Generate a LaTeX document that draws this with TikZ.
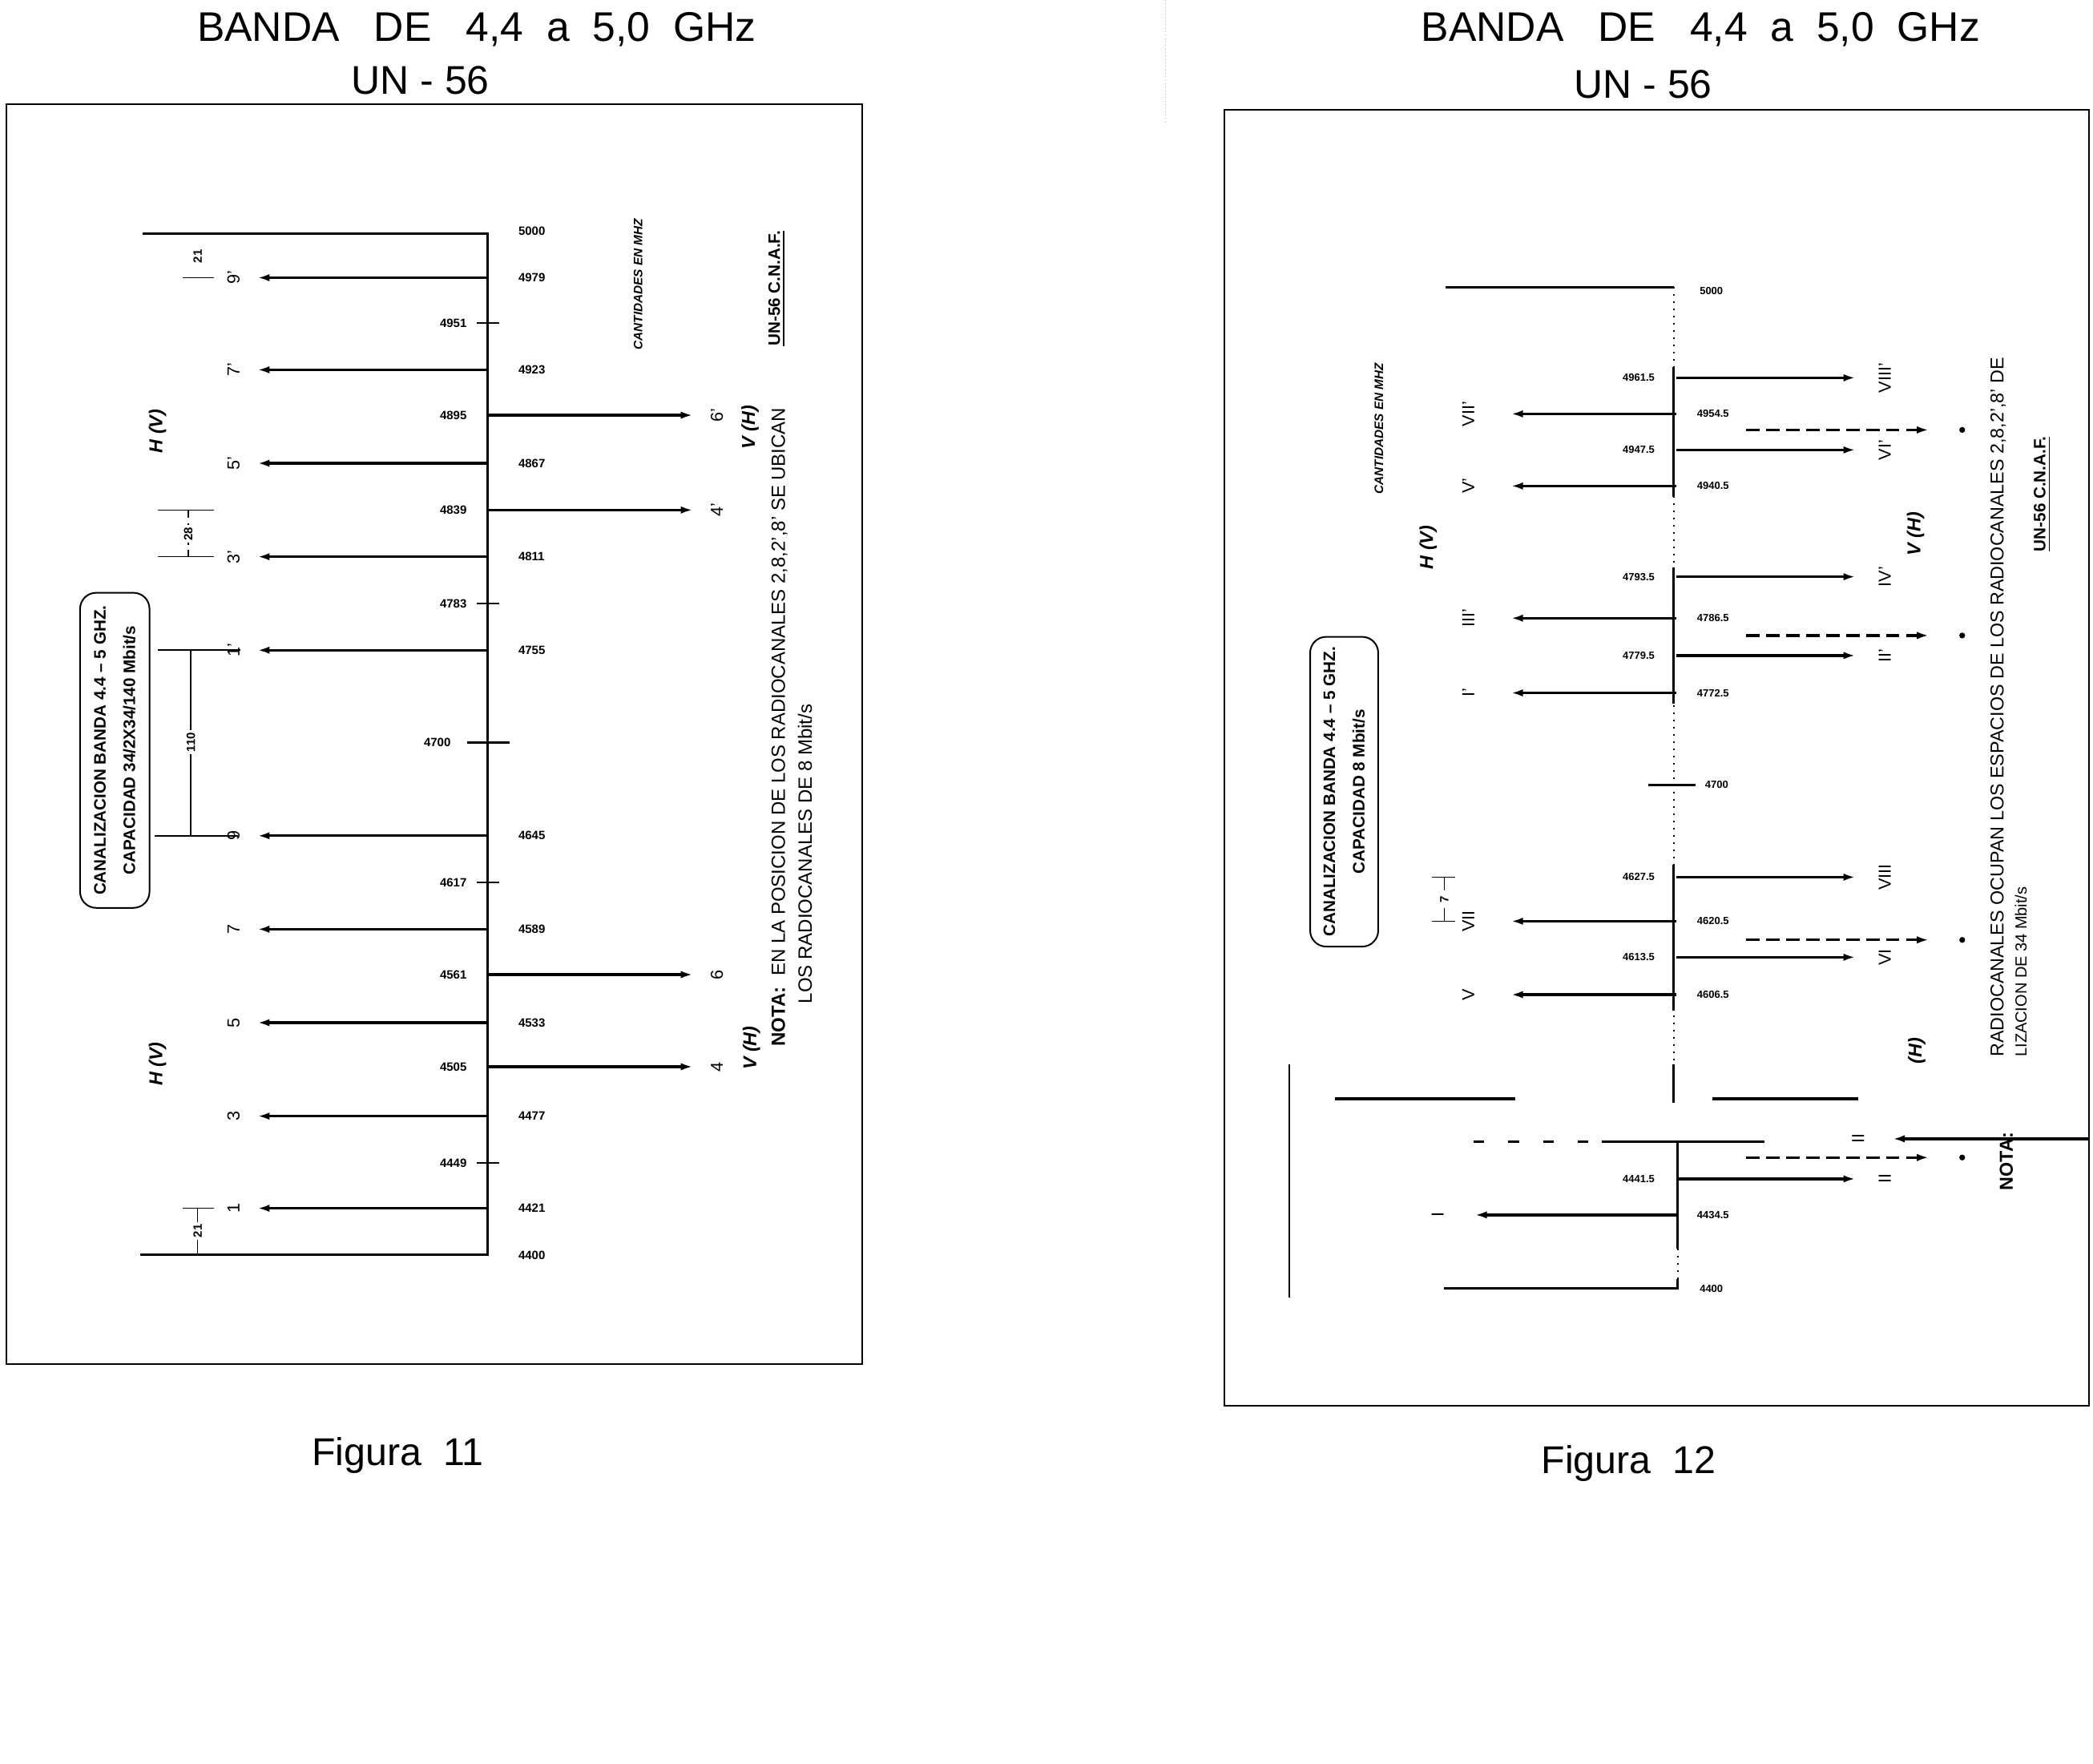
\documentclass[tikz,border=0pt]{standalone}
\usepackage{fontspec}
\setmainfont{Liberation Sans}
\usetikzlibrary{arrows.meta, positioning}

\begin{document}
\begin{tikzpicture}[
    x=0.5pt, y=-0.5pt,
    frame/.style={draw, line width=0.6pt},
    spine/.style={line width=0.9pt},
    chan/.style={line width=1pt, -{Latex[length=4.5pt, width=2.8pt]}},
    dchan/.style={chan, dash pattern=on 5pt off 2.5pt},
    tickmark/.style={line width=0.8pt},
    dim/.style={line width=0.5pt},
    freq/.style={font=\fontsize{4.5}{5}\selectfont\bfseries, inner sep=0.5pt},
    freqb/.style={font=\fontsize{3.9}{5}\selectfont\bfseries, inner sep=0.5pt},
    chlab/.style={rotate=90, font=\fontsize{6.5}{7}\selectfont, inner sep=0.5pt},
    dimlab/.style={rotate=90, font=\fontsize{4.5}{5}\selectfont\bfseries, inner sep=0.8pt, fill=white},
    pol/.style={rotate=90, font=\fontsize{7}{8}\selectfont\bfseries\itshape, inner sep=0pt},
    head/.style={font=\fontsize{15.5}{17}\selectfont},
    sub/.style={font=\fontsize{15}{16}\selectfont},
    caption/.style={font=\fontsize{14.5}{16}\selectfont},
    capbox/.style={rotate=90, draw, rounded corners=6pt, line width=0.6pt, align=center,
        font=\fontsize{6.2}{11}\selectfont\bfseries, inner sep=2pt},
    unit/.style={rotate=90, font=\fontsize{4.6}{5}\selectfont\bfseries\itshape, inner sep=0pt},
    plan/.style={rotate=90, font=\fontsize{6.2}{7}\selectfont\bfseries, inner sep=0pt},
    note/.style={rotate=90, anchor=west, font=\fontsize{7.2}{8}\selectfont, inner sep=0pt},
    blob/.style={circle, fill, inner sep=0pt, minimum size=2.2pt}
]
\useasboundingbox (0,0) rectangle (1568,1321);

% figura 11
\node[head] (t11) at (357,22) {BANDA\ \ \ DE\ \ \ 4,4\ \ a\ \ 5,0\ \ GHz};
\node[sub] (u11) at (315,60) {UN - 56};
\draw[frame] (5,78) rectangle (646,1022);
\node[caption] (c11) at (298,1090) {Figura\ \ 11};
\draw[densely dotted, gray!60, line width=0.3pt] (873,0) -- (873,92);

\coordinate (top11) at (107,175);
\coordinate (s11a) at (365,175);
\coordinate (s11b) at (365,940);
\coordinate (bot11) at (105,940);
\draw[spine] (top11) -- (s11a) -- (s11b) -- (bot11);
\node[freq, anchor=west] (f11-5000) at (387,173) {5000};
\node[freq, anchor=west] (f11-4400) at (387,940) {4400};

\foreach \y/\ch/\f [count=\i] in {208/9'/4979, 277/7'/4923, 347/5'/4867, 417/3'/4811,
    487/1'/4755, 626/9/4645, 696/7/4589, 766/5/4533, 836/3/4477, 905/1/4421} {
  \coordinate (la11-\i) at (365,\y);
  \coordinate (lb11-\i) at (193,\y);
  \draw[chan] (la11-\i) -- (lb11-\i);
  \node[chlab] (lch11-\i) at (175,\y) {\ch};
  \node[freq, anchor=west] (lf11-\i) at (387,\y) {\f};
}
\foreach \y/\ch/\f [count=\i] in {311/6'/4895, 382/4'/4839, 730/6/4561, 799/4/4505} {
  \coordinate (ra11-\i) at (365,\y);
  \coordinate (rb11-\i) at (519,\y);
  \draw[chan] (ra11-\i) -- (rb11-\i);
  \node[chlab] (rch11-\i) at (537,\y) {\ch};
  \node[freq, anchor=east] (rf11-\i) at (351,\y) {\f};
}
\foreach \y/\f [count=\i] in {242/4951, 452/4783, 661/4617, 871/4449} {
  \coordinate (ta11-\i) at (357,\y);
  \coordinate (tb11-\i) at (374,\y);
  \draw[tickmark] (ta11-\i) -- (tb11-\i);
  \node[freq, anchor=east] (tf11-\i) at (351,\y) {\f};
}
\coordinate (ta11-c) at (350,556);
\coordinate (tb11-c) at (382,556);
\draw[tickmark] (ta11-c) -- (tb11-c);
\node[freq, anchor=east] (tf11-c) at (339,556) {4700};

\draw[dim] (137,208) -- (160,208);
\node[dimlab, fill=none] (d11-a) at (148,192) {21};
\draw[dim] (118,382) -- (160,382) (118,417) -- (160,417);
\draw[dim, densely dashed] (141,382) -- (141,417);
\node[dimlab] (d11-b) at (141,400) {28};
\draw[dim] (118,487) -- (180,487) (116,626) -- (178,626);
\draw[dim] (143,487) -- (143,626);
\node[dimlab] (d11-c) at (143,556) {110};
\draw[dim] (137,905) -- (160,905);
\draw[dim] (148,905) -- (148,940);
\node[dimlab] (d11-d) at (148,922) {21};

\node[pol] (hv11-a) at (118,323) {H (V)};
\node[pol] (hv11-b) at (118,797) {H (V)};
\node[pol] (vh11-a) at (562,320) {V (H)};
\node[pol] (vh11-b) at (563,785) {V (H)};
\node[capbox, minimum width=118pt, minimum height=26pt] (box11) at (86,562)
  {CANALIZACION BANDA 4.4 -- 5 GHZ.\\CAPACIDAD 34/2X34/140 Mbit/s};
\node[unit] (cm11) at (478,213) {CANTIDADES EN MHZ};
\node[plan] (cn11) at (582,216) {\underline{UN-56 C.N.A.F.}};
\node[note] (n11-a) at (584,784) {\textbf{NOTA:}\ \ EN LA POSICION DE LOS RADIOCANALES 2,8,2',8' SE UBICAN};
\node[note] (n11-b) at (603,752) {LOS RADIOCANALES DE 8 Mbit/s};

% figura 12
\node[head] (t12) at (1274,22) {BANDA\ \ \ DE\ \ \ 4,4\ \ a\ \ 5,0\ \ GHz};
\node[sub] (u12) at (1231,63) {UN - 56};
\draw[frame] (917,82) rectangle (1565,1053);
\node[caption] (c12) at (1220,1096) {Figura\ \ 12};

\coordinate (top12) at (1083,215);
\coordinate (s12a) at (1254,215);
\draw[spine] (top12) -- (s12a);
\draw[dotted, line width=0.7pt] (s12a) -- (1254,797);
\foreach \ya/\yb in {275/372, 425/527, 648/757} {
  \draw[spine] (1254,\ya) -- (1254,\yb);
}
\node[freqb, anchor=west] (f12-5000) at (1272,218) {5000};
\coordinate (ta12-c) at (1235,588);
\coordinate (tb12-c) at (1270,588);
\draw[tickmark] (ta12-c) -- (tb12-c);
\node[freqb, anchor=west] (tf12-c) at (1276,588) {4700};

\foreach \y/\ch/\f/\xe/\xl [count=\i] in {310/VII'/4954.5/1132/1100, 364/V'/4940.5/1132/1100,
    463/III'/4786.5/1132/1100, 519/I'/4772.5/1132/1100, 690/VII/4620.5/1132/1100,
    745/V/4606.5/1132/1100, 910/I/4434.5/1105/1077} {
  \coordinate (la12-\i) at (1256,\y);
  \coordinate (lb12-\i) at (\xe,\y);
  \draw[chan] (la12-\i) -- (lb12-\i);
  \node[chlab] (lch12-\i) at (\xl,\y) {\ch};
  \node[freqb, anchor=west] (lf12-\i) at (1270,\y) {\f};
}
\foreach \y/\ch/\f [count=\i] in {283/VIII'/4961.5, 337/VI'/4947.5, 432/IV'/4793.5,
    491/II'/4779.5, 657/VIII/4627.5, 717/VI/4613.5, 883/II/4441.5} {
  \coordinate (ra12-\i) at (1256,\y);
  \coordinate (rb12-\i) at (1390,\y);
  \draw[chan] (ra12-\i) -- (rb12-\i);
  \node[chlab] (rch12-\i) at (1412,\y) {\ch};
  \node[freqb, anchor=east] (rf12-\i) at (1241,\y) {\f};
}
\foreach \y [count=\i] in {322, 476, 704, 867} {
  \coordinate (da12-\i) at (1308,\y);
  \coordinate (db12-\i) at (1445,\y);
  \draw[dchan] (da12-\i) -- (db12-\i);
  \node[blob] (dm12-\i) at (1470,\y) {};
}

% tramo inferior desplazado
\draw[line width=0.6pt] (966,797) -- (966,972);
\draw[line width=1pt] (1000,823) -- (1135,823);
\draw[line width=1pt] (1283,823) -- (1392,823);
\draw[line width=0.9pt, dash pattern=on 4pt off 9pt] (1104,855) -- (1200,855);
\draw[line width=0.9pt] (1200,855) -- (1322,855);
\draw[spine] (1254,797) -- (1254,826);
\draw[spine] (1257,855) -- (1257,935);
\draw[dotted, line width=0.7pt] (1257,935) -- (1257,958);
\coordinate (bs12) at (1257,965);
\coordinate (bot12) at (1082,965);
\draw[spine] (1257,958) -- (bs12) -- (bot12);
\node[freqb, anchor=west] (f12-4400) at (1272,965) {4400};
\coordinate (xa12) at (1565,853);
\coordinate (xb12) at (1418,853);
\draw[chan] (xa12) -- (xb12);
\node[chlab] (xch12) at (1392,853) {II};

\node[pol] (hv12) at (1070,410) {H (V)};
\node[pol] (vh12-a) at (1435,400) {V (H)};
\node[pol] (vh12-b) at (1436,787) {(H)};
\node[capbox, minimum width=116pt, minimum height=25.5pt] (box12) at (1007,593)
  {CANALIZACION BANDA 4.4 -- 5 GHZ.\\CAPACIDAD 8 Mbit/s};
\draw[dim] (1073,657) -- (1090,657) (1073,690) -- (1090,690);
\draw[dim] (1082,657) -- (1082,667) (1082,680) -- (1082,690);
\node[dimlab, fill=none] (d12) at (1082,674) {7};
\node[unit] (cm12) at (1033,321) {CANTIDADES EN MHZ};
\node[plan] (cn12) at (1530,370) {\underline{UN-56 C.N.A.F.}};
\node[note, font=\fontsize{7}{8}\selectfont] (n12-a) at (1497,792) {RADIOCANALES OCUPAN LOS ESPACIOS DE LOS RADIOCANALES 2,8,2',8' DE};
\node[note, font=\fontsize{6}{7}\selectfont] (n12-b) at (1514,792) {LIZACION DE 34 Mbit/s};
\node[note, font=\fontsize{7}{8}\selectfont\bfseries, anchor=center] (n12-c) at (1503,870) {NOTA:};
\end{tikzpicture}
\end{document}
